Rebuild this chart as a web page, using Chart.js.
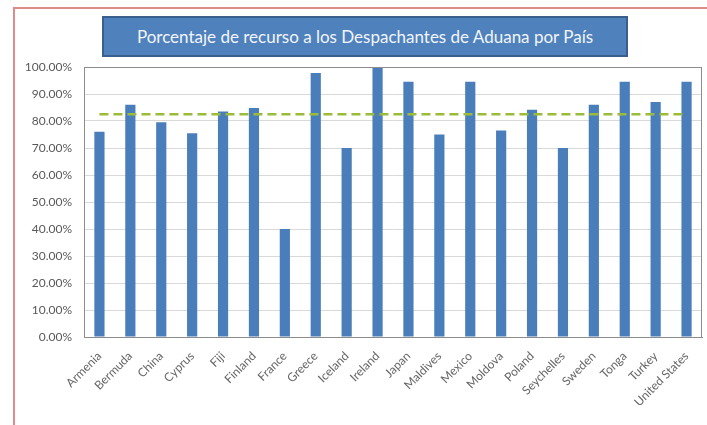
<!DOCTYPE html>
<html>
<head>
<meta charset="utf-8">
<script src="https://cdn.jsdelivr.net/npm/chart.js@4"></script>
<style>
  html, body { margin: 0; padding: 0; background: #fff; overflow: hidden; }
  #wrap { position: relative; width: 707px; height: 425px; overflow: hidden; background: #fff; }
  #frame { position: absolute; left: 13px; top: 7px; width: 800px; height: 500px;
           border-left: 2px solid #e08a8a; border-top: 2px solid #e08a8a; box-sizing: border-box; }
  #title { position: absolute; left: 102px; top: 16px; width: 526px; height: 41px;
           background: #4f81bd; border: 2px solid #3a5f8c; box-sizing: border-box;
           color: #f2f5fa; font: 17px Lato, sans-serif; text-align: center; line-height: 37px; }
  canvas { position: absolute; left: 0; top: 0; }
</style>
</head>
<body>
<div id="wrap">
  <div id="frame"></div>
  <canvas id="myChart" width="707" height="425"></canvas>
  <div id="title">Porcentaje de recurso a los Despachantes de Aduana por País</div>
</div>
<script>
const countries = ['Armenia', 'Bermuda', 'China', 'Cyprus', 'Fiji', 'Finland', 'France', 'Greece',
    'Iceland', 'Ireland', 'Japan', 'Maldives', 'Mexico', 'Moldova', 'Poland', 'Seychelles',
    'Sweden', 'Tonga', 'Turkey', 'United States'];

// porcentaje por país
const percentages = [76, 86, 79.5, 75.5, 83.5, 84.8, 40, 97.8, 70, 100, 94.5, 75, 94.5, 76.5,
    84.2, 70, 86, 94.5, 87, 94.5];

// línea de promedio
const averageLine = [82.5, 82.5, 82.5, 82.5, 82.5, 82.5, 82.5, 82.5, 82.5, 82.5,
    82.5, 82.5, 82.5, 82.5, 82.5, 82.5, 82.5, 82.5, 82.5, 82.5];

const yTicks = [0, 10, 20, 30, 40, 50, 60, 70, 80, 90, 100];

const plotBox = {
    id: 'plotBox',
    afterDraw(chart) {
        const a = chart.chartArea;
        const ctx = chart.ctx;
        ctx.save();
        ctx.strokeStyle = '#8c8c8c';
        ctx.lineWidth = 1;
        ctx.strokeRect(a.left + 0.5, a.top + 0.5, a.right - a.left - 1, a.bottom - a.top);
        ctx.restore();
    }
};

const ctx = document.getElementById('myChart').getContext('2d');
new Chart(ctx, {
    data: {
        labels: countries,
        datasets: [
            {
                type: 'line',
                data: averageLine,
                borderColor: '#9bbb3a',
                borderWidth: 2.5,
                borderDash: [9, 5],
                pointRadius: 0,
                fill: false,
                order: 0
            },
            {
                type: 'bar',
                data: percentages,
                backgroundColor: '#4a7ebb',
                barPercentage: 0.33,
                categoryPercentage: 1,
                order: 1
            }
        ]
    },
    options: {
        responsive: false,
        animation: false,
        layout: { padding: { top: 67, right: 5, left: 0, bottom: 0 } },
        plugins: { legend: { display: false }, tooltip: { enabled: false } },
        scales: {
            x: {
                grid: { display: false },
                border: { color: '#8c8c8c' },
                ticks: {
                    color: '#666666',
                    font: { family: 'Lato', size: 12 },
                    minRotation: 45,
                    maxRotation: 45,
                    autoSkip: false,
                    padding: 4
                },
                afterFit(scale) { scale.height = 88; }
            },
            y: {
                min: 0,
                max: 100,
                afterBuildTicks(scale) { scale.ticks = yTicks.map(v => ({ value: v })); },
                grid: { color: '#d9d9d9', drawTicks: false },
                border: { color: '#8c8c8c' },
                ticks: {
                    color: '#595959',
                    font: { family: 'Lato', size: 12 },
                    padding: 12,
                    callback: v => v.toFixed(2) + '%'
                },
                afterFit(scale) { scale.width = 84; }
            }
        }
    },
    plugins: [plotBox]
});
</script>
</body>
</html>
